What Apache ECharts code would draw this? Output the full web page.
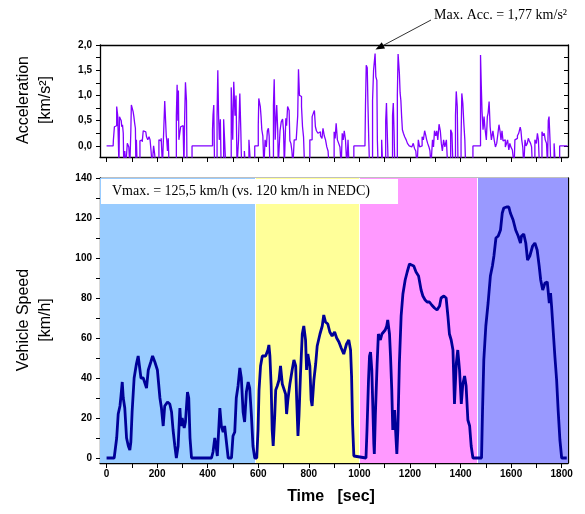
<!DOCTYPE html>
<html><head><meta charset="utf-8">
<script src="https://cdn.jsdelivr.net/npm/echarts@6/dist/echarts.min.js"></script>
<style>html,body{margin:0;padding:0;background:#fff}#c{width:585px;height:514px}</style>
</head><body><div id="c"></div>
<script>
// ---- data ----
const speedData = [
[0,0],[30,0],[36,6],[40,10],[46,22],[53,26],[57,31],[62,38],[66,30],[70,31],[72,25],[79,10],[86,6],[92,4],[96,8],[101,23],[109,40],[118,47],[125,51],[130,46],[136,40],[145,40],[151,39],[158,35],[165,44],[175,48],[182,51],[191,48],[201,44],[211,30],[217,25],[224,16],[230,26],[241,28],[250,27],[257,23],[263,14],[270,6],[276,0],[283,6],[290,25],[294,16],[299,20],[307,15],[312,18],[320,33],[325,30],[330,10],[336,0],[415,0],[421,3],[428,10],[434,5],[438,1],[448,25],[454,16],[461,13],[467,16],[474,8],[481,0],[494,0],[500,11],[507,13],[513,30],[520,36],[527,45],[533,40],[540,23],[546,18],[553,33],[560,38],[566,35],[573,21],[579,6],[586,0],
[594,0],[599,14],[603,34],[609,46],[616,51],[622,51.5],[629,51],[638,54],[642,56.5],[646,51],[651,36],[655,14],[659,6],[665,21],[669,34],[675,36],[682,39],[688,46],[695,37],[701,36],[708,32],[712,22],[717,29],[725,37],[734,44],[741,49],[748,46],[752,29],[757,11],[761,21],[767,42],[774,62],[780,66],[787,59],[791,44],[796,52],[804,46],[809,29],[813,26],[820,39],[827,47],[833,56],[844,62],[853,66],[859,71.5],[866,68],[875,67],[883,63],[892,61],[902,63],[910,60],[919,58],[928,55],[938,52],[949,57],[958,59],[965,54],[969,41],[973,17],[978,1],[985,0],
[1026,0],[1030,14],[1036,39],[1040,51],[1044,53],[1049,44],[1053,26],[1057,7],[1059,2],[1063,21],[1070,47],[1075,62],[1083,59],[1089,62],[1096,63],[1102,64],[1108,66],[1112,69],[1119,62],[1123,51],[1128,34],[1132,14],[1139,24],[1143,14],[1148,2],[1152,14],[1158,47],[1165,71],[1172,82],[1181,89],[1189,93],[1198,97],[1205,97],[1215,96],[1224,93],[1234,91],[1244,84],[1251,81],[1260,79],[1268,78],[1277,78],[1286,76.5],[1297,75],[1307,74],[1317,76],[1323,80],[1334,81],[1343,80],[1350,71],[1356,62],[1363,59],[1370,54],[1376,27],[1383,47],[1389,54],[1396,44],[1403,27],[1409,37],[1416,41],[1422,36],[1429,19],[1436,16],[1442,6],[1449,0],
[1483,0],[1487,24],[1492,49],[1500,66],[1509,77.5],[1518,91],[1526,96],[1532,101],[1540,110],[1549,111],[1558,114],[1565,122.5],[1571,125],[1582,125.5],[1591,125.5],[1597,122.5],[1608,119],[1618,114],[1628,111],[1637,107.5],[1641,111],[1650,112],[1658,107.5],[1665,99],[1674,101],[1685,106],[1694,107.5],[1703,104],[1711,96],[1717,89],[1725,84],[1734,87.5],[1743,88],[1751,77.5],[1756,82.5],[1760,76],[1767,62.5],[1773,51],[1780,39],[1786,24],[1793,9],[1800,0],[1820,0]
];
const accelData = [
[0,0],[26,0],[27,0.12],[31,0.38],[36,0.4],[40,0.78],[44,0.6],[47,0.58],[49,-0.4],[51,0.58],[55,0.55],[58,0.5],[60,0.38],[63,0.42],[66,0.25],[68,-0.4],[72,-0.1],[76,-0.4],[82,0.05],[88,-0.02],[92,-0.4],[96,0.3],[98,0.81],[102,0.78],[105,0.68],[108,0.58],[111,0.45],[114,0.35],[116,-0.4],[118,0.12],[121,-0.4],[132,0.1],[136,0.12],[141,0.08],[145,0.3],[150,0.28],[155,0.3],[158,0.18],[163,0.12],[168,0.18],[172,0.12],[176,-0.1],[180,-0.4],[186,0.0],[190,-0.15],[194,-0.4],[207,0.12],[212,0.1],[216,0.15],[221,-0.4],[226,0.3],[230,0.89],[236,0.2],[238,0.12],[241,-0.1],[244,0.15],[247,-0.4],[276,0.6],[279,1.21],[282,0.5],[284,1.1],[286,0.12],[290,0.12],[293,0.38],[298,0.4],[303,0.3],[306,-0.4],[309,0.6],[312,1.26],[316,0.9],[318,-0.4],[338,0],[419,0.32],[421,0.61],[424,0.81],[427,-0.4],[437,0.6],[440,1.5],[443,0.6],[446,0.12],[450,0.53],[453,-0.4],[463,0.53],[467,0.1],[471,-0.4],[493,1.16],[499,0.12],[503,1.27],[508,0.6],[512,1.0],[516,-0.4],[522,0.12],[527,1.04],[531,0.3],[534,-0.4],[545,-0.1],[549,-0.4],[563,0.12],[567,-0.2],[570,-0.4],[586,0],
[600,0.4],[602,0.94],[608,0.78],[611,0.58],[614,0.32],[618,0.2],[622,-0.4],[627,0.12],[632,-0.02],[636,0.3],[640,0.35],[643,0.2],[646,-0.4],[660,0.8],[663,1.32],[667,0.12],[670,0.5],[673,0.81],[677,0.3],[679,-0.4],[686,0.3],[691,0.48],[696,0.53],[700,0.3],[703,-0.4],[709,0.55],[712,0.4],[716,0.78],[722,0.7],[725,0.1],[729,0.05],[733,-0.1],[737,-0.4],[742,0.12],[750,0.1],[756,0.6],[759,1.52],[763,1.0],[767,0.98],[771,0.78],[775,0.38],[779,0.18],[783,-0.4],[804,0.12],[810,0.12],[813,0.58],[818,0.65],[822,0.7],[826,0.38],[830,0.3],[836,0.25],[841,0.28],[846,0.2],[852,0.15],[856,0.35],[861,0.2],[866,0.12],[871,-0.02],[876,-0.1],[880,-0.4],[900,0.28],[904,0.15],[908,0.45],[913,0.12],[918,0.05],[923,-0.02],[928,-0.4],[932,0.25],[936,0.12],[940,0.3],[945,0.12],[950,-0.4],[955,0.12],[959,-0.4],[978,0],
[1022,0],[1024,0.8],[1027,1.6],[1031,1.55],[1034,0.78],[1037,0.12],[1040,-0.4],[1052,0.9],[1056,1.5],[1062,1.83],[1065,1.37],[1069,1.3],[1071,0.12],[1074,-0.4],[1088,0.12],[1092,-0.4],[1104,0.5],[1107,0.85],[1111,0.12],[1114,-0.4],[1131,0.6],[1134,0.85],[1137,0.3],[1140,-0.4],[1150,1.0],[1153,1.82],[1158,1.45],[1161,1.05],[1164,0.9],[1167,0.58],[1170,0.32],[1174,0.25],[1179,0.18],[1185,0.12],[1190,0.05],[1197,0.0],[1202,-0.02],[1207,0.0],[1213,0.05],[1218,-0.05],[1223,-0.1],[1228,-0.4],[1233,0.12],[1238,-0.02],[1243,0.0],[1248,0.18],[1253,0.12],[1258,0.3],[1262,0.22],[1266,0.12],[1270,0.05],[1275,-0.02],[1279,-0.1],[1283,-0.4],[1289,0.12],[1293,-0.02],[1297,0.3],[1302,0.2],[1306,0.3],[1310,0.12],[1315,0.43],[1320,0.3],[1324,0.05],[1328,-0.1],[1333,0.12],[1338,-0.02],[1344,0.12],[1349,-0.4],[1361,0.32],[1366,0.25],[1370,-0.4],[1380,0.6],[1383,1.08],[1387,0.78],[1390,-0.4],[1402,0.12],[1405,1.04],[1409,0.85],[1413,0.45],[1417,0.12],[1420,-0.4],[1449,0],
[1479,1.8],[1482,1.2],[1485,0.68],[1489,0.32],[1493,0.58],[1496,0.38],[1502,0.12],[1506,0.58],[1509,0.65],[1513,0.88],[1517,0.38],[1522,0.12],[1528,0.3],[1533,0.12],[1538,-0.02],[1543,0.05],[1548,0.25],[1552,0.42],[1556,0.3],[1560,0.12],[1564,0.3],[1568,0.1],[1572,0.12],[1577,-0.02],[1582,0.05],[1586,0.12],[1591,-0.08],[1595,0.05],[1599,-0.02],[1605,-0.08],[1609,-0.1],[1612,-0.4],[1615,0.12],[1620,0.15],[1625,0.2],[1630,0.25],[1636,0.37],[1639,0.3],[1642,0.12],[1646,-0.02],[1650,-0.4],[1655,0.12],[1659,0.0],[1664,0.05],[1668,0.15],[1672,0.1],[1677,0.05],[1681,-0.02],[1684,-0.4],[1694,0.12],[1700,0.05],[1704,0.25],[1708,0.12],[1712,-0.4],[1722,0.28],[1727,0.2],[1731,0.25],[1735,0.12],[1740,0.05],[1744,-0.4],[1747,0.5],[1750,0.58],[1754,0.1],[1757,-0.4],[1770,0.05],[1775,-0.4],[1792,0],[1823,0]
];
const phaseStart = [-26, 590, 1000, 1466];
const phaseEnd   = [590, 1000, 1466, 1825];
const phaseColor = ['#99ccff', '#ffff99', '#ff99ff', '#9999ff'];
const timeTicks  = [0,100,200,300,400,500,600,700,800,900,1000,1100,1200,1300,1400,1500,1600,1700,1800];
const timeLabels = [0,200,400,600,800,1000,1200,1400,1600,1800];
const speedTicks = [0,10,20,30,40,50,60,70,80,90,100,110,120,130,140];
const speedLabels = [0,20,40,60,80,100,120,140];
const accTicks  = [0,0.25,0.5,0.75,1,1.25,1.5,1.75,2];
const accLabels = [0,0.5,1,1.5,2];
const maxAccText = 'Max. Acc. = 1,77 km/s\u00b2';
const vmaxText = 'Vmax. = 125,5 km/h (vs. 120 km/h in NEDC)';

// ---- chart ----
const chart = echarts.init(document.getElementById('c'), null, {renderer:'canvas'});
const LBL = {color:'#000', fontFamily:'Liberation Sans', fontWeight:'bold', fontSize:10};
const frame = {show:true, onZero:false, lineStyle:{color:'#000', width:1.3}};
const xMin = -26, xMax = 1825;
const plain = v => String(Math.round(v));
const xAxes = [
  {gridIndex:0, type:'value', min:xMin, max:xMax, axisLine:frame,
   axisTick:{show:true, customValues:timeTicks, length:5, lineStyle:{color:'#000'}},
   axisLabel:{show:false}, splitLine:{show:false}},
  {gridIndex:0, type:'value', position:'top', min:xMin, max:xMax, axisLine:frame,
   axisTick:{show:false}, axisLabel:{show:false}, splitLine:{show:false}},
  {gridIndex:1, type:'value', min:xMin, max:xMax, axisLine:frame,
   axisTick:{show:true, customValues:timeTicks, length:5, lineStyle:{color:'#000'}},
   axisLabel:Object.assign({customValues:timeLabels, margin:6, formatter:plain}, LBL), splitLine:{show:false}},
  {gridIndex:1, type:'value', position:'top', min:xMin, max:xMax, axisLine:frame,
   axisTick:{show:false}, axisLabel:{show:false}, splitLine:{show:false}}
];
const yAxes = [
  {gridIndex:0, type:'value', min:-0.22, max:2.0, axisLine:frame,
   axisTick:{show:true, customValues:accTicks, length:4, lineStyle:{color:'#000'}},
   axisLabel:Object.assign({customValues:accLabels, margin:8,
     formatter:v=>v.toFixed(1).replace('.', ',')}, LBL), splitLine:{show:false}},
  {gridIndex:0, type:'value', position:'right', min:-0.22, max:2.0, axisLine:frame,
   axisTick:{show:true, inside:true, customValues:accTicks, length:4, lineStyle:{color:'#000'}},
   axisLabel:{show:false}, splitLine:{show:false}},
  {gridIndex:1, type:'value', min:-2.5, max:140, axisLine:frame,
   axisTick:{show:true, customValues:speedTicks, length:4, lineStyle:{color:'#000'}},
   axisLabel:Object.assign({customValues:speedLabels, margin:8, formatter:plain}, LBL), splitLine:{show:false}},
  {gridIndex:1, type:'value', position:'right', min:-2.5, max:140, axisLine:frame,
   axisTick:{show:true, inside:true, customValues:speedTicks, length:4, lineStyle:{color:'#000'}},
   axisLabel:{show:false}, splitLine:{show:false}}
];
const areas = phaseStart.map((s,i)=>[{xAxis:s, itemStyle:{color:phaseColor[i]}}, {xAxis:phaseEnd[i]}]);
const option = {
  animation:false,
  backgroundColor:'#fff',
  grid:[
    {left:100, top:45, width:468, height:112},
    {left:100, top:178, width:468, height:285}
  ],
  xAxis:xAxes, yAxis:yAxes,
  series:[
    {type:'line', xAxisIndex:2, yAxisIndex:2, data:[], z:1, silent:true,
     markArea:{silent:true, data:areas},
     markLine:{silent:true, symbol:'none', label:{show:false},
       lineStyle:{color:'#ffffff', width:1, type:'solid'},
       data:phaseStart.slice(1).map(s=>({xAxis:s}))}},
    {type:'line', name:'speed', xAxisIndex:2, yAxisIndex:2, data:speedData, z:5,
     showSymbol:false, lineStyle:{color:'#000099', width:2.8}, itemStyle:{color:'#000099'}},
    {type:'line', name:'accel', xAxisIndex:0, yAxisIndex:0, data:accelData, step:'end', z:5,
     showSymbol:false, clip:true, lineStyle:{color:'#8000ff', width:1.3}, itemStyle:{color:'#8000ff'}}
  ]
};
chart.setOption(option);

// annotations
let peak = accelData[0];
accelData.forEach(p=>{ if (p[1] > peak[1]) peak = p; });
const tip = chart.convertToPixel({xAxisIndex:0, yAxisIndex:0}, [peak[0] + 1.5, peak[1]]);
const tx = tip[0], ty = tip[1] - 4;
const sx = 431, sy = 20;
const ang = Math.atan2(ty - sy, tx - sx);
const hl = 9, hw = 3.5;
const bx = tx - hl*Math.cos(ang), by = ty - hl*Math.sin(ang);
const head = [[tx,ty],[bx - hw*Math.sin(ang), by + hw*Math.cos(ang)],[bx + hw*Math.sin(ang), by - hw*Math.cos(ang)]];
const txtStyle = (t, font, extra)=>Object.assign({text:t, font:font, fill:'#000', textAlign:'center', textVerticalAlign:'middle', align:'center', verticalAlign:'middle'}, extra||{});
chart.setOption({graphic:[
  {type:'rect', z:50, shape:{x:101, y:179, width:297, height:25}, style:{fill:'#ffffff'}},
  {type:'text', z:51, x:112, y:191.5, style:txtStyle(vmaxText, '14px "Liberation Serif"', {textAlign:'left', align:'left'})},
  {type:'text', z:51, x:434, y:15, style:txtStyle(maxAccText, '14px "Liberation Serif"', {textAlign:'left', align:'left'})},
  {type:'line', z:51, shape:{x1:sx, y1:sy, x2:bx, y2:by}, style:{stroke:'#333', lineWidth:1}},
  {type:'polygon', z:51, shape:{points:head}, style:{fill:'#000'}},
  {type:'text', z:51, x:24, y:100, rotation:Math.PI/2, style:txtStyle('Acceleration', '16px "Liberation Sans"')},
  {type:'text', z:51, x:46, y:100, rotation:Math.PI/2, style:txtStyle('[km/s\u00b2]', '16px "Liberation Sans"')},
  {type:'text', z:51, x:24, y:320, rotation:Math.PI/2, style:txtStyle('Vehicle Speed', '16px "Liberation Sans"')},
  {type:'text', z:51, x:46, y:320, rotation:Math.PI/2, style:txtStyle('[km/h]', '16px "Liberation Sans"')},
  {type:'text', z:51, x:331, y:497, style:txtStyle('Time   [sec]', 'bold 16px "Liberation Sans"')}
]});
</script>
</body></html>
